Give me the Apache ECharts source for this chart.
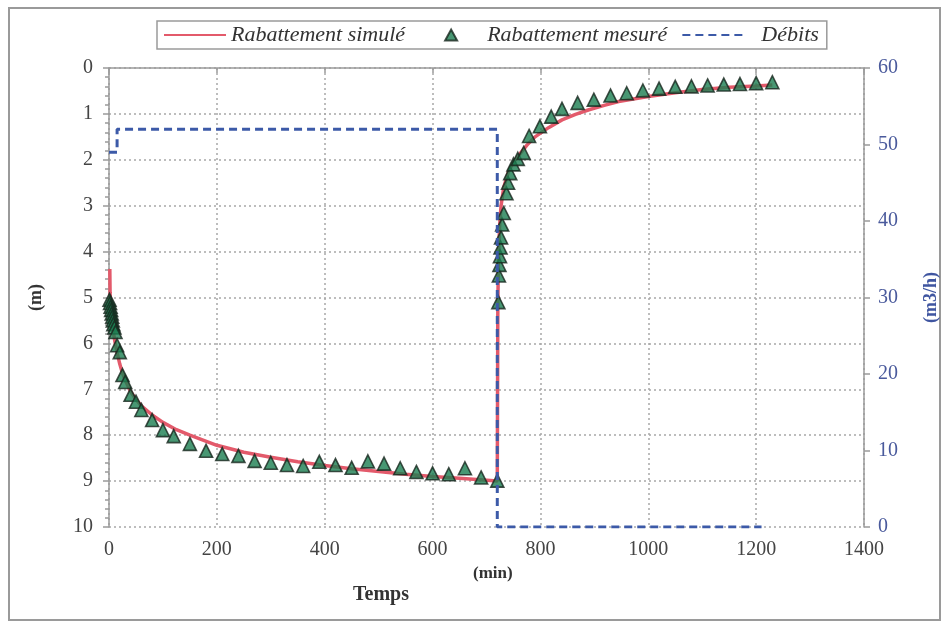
<!DOCTYPE html>
<html>
<head>
<meta charset="utf-8">
<script src="https://cdn.jsdelivr.net/npm/echarts@6/dist/echarts.min.js"></script>
<style>
  html, body { margin: 0; padding: 0; background: #fff; }
  #chart { width: 948px; height: 628px; }
</style>
</head>
<body>
<div id="chart"></div>
<script>
// Simulated drawdown (m) over time (min): pumping phase then recovery
const simTime = [1.5, 2, 3, 5, 7, 10, 15, 20, 25, 30, 40, 50, 60, 80, 100, 125, 150, 200, 250, 300, 350, 400, 450, 500, 550, 600, 650, 720,
  721, 722, 724, 727, 732, 741, 750, 760, 775, 790, 815, 840, 865, 890, 920, 945, 975, 1000, 1050, 1100, 1150, 1200, 1230];
const simDrawdown = [4.38, 4.9, 5.15, 5.45, 5.65, 5.9, 6.2, 6.45, 6.65, 6.8, 7.05, 7.22, 7.36, 7.56, 7.72, 7.88, 8.0, 8.22, 8.37, 8.48, 8.58, 8.66, 8.73, 8.79, 8.85, 8.9, 8.94, 9.0,
  5.2, 4.3, 3.5, 3.0, 2.6, 2.25, 2.05, 1.9, 1.68, 1.5, 1.3, 1.13, 1.01, 0.91, 0.81, 0.73, 0.67, 0.62, 0.54, 0.47, 0.42, 0.39, 0.37];

// Measured drawdown (m)
const measTime = [1, 2, 3, 4, 5, 6, 7, 8, 10, 12, 15, 20, 25, 30, 40, 50, 60, 80, 100, 120, 150, 180, 210, 240, 270, 300, 330, 360, 390, 420,
  450, 480, 510, 540, 570, 600, 630, 660, 690, 720,
  722, 723, 724, 725, 726, 727, 729, 732, 737, 740, 744, 750, 758, 769, 779, 799, 820, 840, 869, 899, 930, 960, 990, 1020, 1050, 1080,
  1110, 1140, 1170, 1200, 1230];
const measDrawdown = [5.05, 5.12, 5.2, 5.27, 5.35, 5.42, 5.5, 5.58, 5.65, 5.75, 6.04, 6.19, 6.69, 6.84, 7.12, 7.27, 7.45, 7.67, 7.89, 8.02, 8.19, 8.34, 8.41, 8.45, 8.56, 8.6, 8.65, 8.67, 8.58, 8.65,
  8.71, 8.57, 8.62, 8.72, 8.8, 8.83, 8.85, 8.72, 8.92, 8.99,
  5.1, 4.52, 4.29, 4.1, 3.91, 3.69, 3.41, 3.16, 2.73, 2.5, 2.29, 2.1, 1.98, 1.85, 1.48, 1.27, 1.06, 0.89, 0.76, 0.69, 0.6, 0.55, 0.49, 0.45, 0.41, 0.4,
  0.38, 0.36, 0.35, 0.33, 0.31];

// Pumping rate (m3/h), step function
const flowTime = [0, 15, 15, 720, 720, 1210];
const flowRate = [49, 49, 52, 52, 0, 0];

// Axis ticks
const timeTicks = { min: 0, max: 1400, step: 200 };
const depthTicks = { min: 0, max: 10, step: 1 };
const rateTicks = { min: 0, max: 60, step: 10 };

const zip = (a, b) => a.map((v, i) => [v, b[i]]);

const serif = 'Liberation Serif, Times New Roman, serif';
const gridLine = { show: true, lineStyle: { color: '#a8a8a8', type: [2, 3], width: 1.5 } };
const axisLineStyle = { color: '#9a9a9a', width: 1.5 };
const plainNumber = v => String(v);
const noMarker = { opacity: 0, borderWidth: 0 };
// Small triangle centred in a 62x12 legend slot (outer moveTo points set the box)
const legendTriangle = 'path://M0,6 M25,12 L31,1 L37,12 Z M62,6';

const chart = echarts.init(document.getElementById('chart'));
chart.setOption({
  animation: false,
  backgroundColor: '#fff',
  grid: { left: 109, right: 81, top: 68, bottom: 101, containLabel: false },
  legend: {
    left: 157, top: 21,
    padding: [3, 8, 3, 6],
    borderColor: '#9a9a9a', borderWidth: 1.5,
    itemWidth: 62, itemHeight: 12, itemGap: 14,
    textStyle: { fontFamily: serif, fontStyle: 'italic', fontSize: 22, color: '#333' },
    data: [
      { name: 'Rabattement simulé', itemStyle: noMarker },
      { name: 'Rabattement mesuré', icon: legendTriangle },
      { name: 'Débits', itemStyle: noMarker, textStyle: { padding: [0, 0, 0, 12] } }
    ]
  },
  xAxis: {
    type: 'value', min: timeTicks.min, max: timeTicks.max, interval: timeTicks.step,
    axisLine: { show: true, lineStyle: axisLineStyle },
    axisTick: { show: true, length: 5, lineStyle: axisLineStyle },
    axisLabel: { fontFamily: serif, fontSize: 20, color: '#444', margin: 13, formatter: plainNumber },
    splitLine: gridLine
  },
  yAxis: [
    {
      type: 'value', inverse: true, min: depthTicks.min, max: depthTicks.max, interval: depthTicks.step,
      name: '(m)', nameLocation: 'middle', nameGap: 64,
      nameTextStyle: { fontFamily: serif, fontWeight: 'bold', fontSize: 18, color: '#333' },
      axisLine: { show: true, lineStyle: axisLineStyle },
      axisTick: { show: true, length: 6, lineStyle: axisLineStyle },
      minorTick: { show: true, splitNumber: 5, length: 4, lineStyle: axisLineStyle },
      axisLabel: { fontFamily: serif, fontSize: 20, color: '#444', margin: 16, formatter: plainNumber },
      splitLine: gridLine
    },
    {
      type: 'value', position: 'right', min: rateTicks.min, max: rateTicks.max, interval: rateTicks.step,
      name: '(m3/h)', nameLocation: 'middle', nameGap: 58,
      nameTextStyle: { fontFamily: serif, fontWeight: 'bold', fontSize: 18, color: '#3f55a0' },
      axisLine: { show: true, lineStyle: axisLineStyle },
      axisTick: { show: true, length: 6, lineStyle: axisLineStyle },
      axisLabel: { fontFamily: serif, fontSize: 20, color: '#4a5a9c', margin: 14, formatter: plainNumber },
      splitLine: { show: false }
    }
  ],
  graphic: [
    { type: 'rect', shape: { x: 9, y: 8, width: 931, height: 612 }, style: { fill: 'none', stroke: '#9a9a9a', lineWidth: 2 }, z: -1 },
    { type: 'text', left: 473, top: 565, style: { text: '(min)', font: 'bold 17px ' + serif, fill: '#333' } },
    { type: 'text', left: 353, top: 585, style: { text: 'Temps', font: 'bold 20px ' + serif, fill: '#333' } }
  ],
  series: [
    {
      name: 'Rabattement simulé', type: 'line', yAxisIndex: 0, symbol: 'none', z: 2,
      lineStyle: { color: '#e35a6b', width: 3.5 }, itemStyle: { color: '#e35a6b' },
      data: zip(simTime, simDrawdown)
    },
    {
      name: 'Rabattement mesuré', type: 'scatter', yAxisIndex: 0, symbol: 'triangle', symbolSize: 13, z: 3,
      itemStyle: { color: '#1a7d50', borderColor: '#17251d', borderWidth: 1.6 },
      data: zip(measTime, measDrawdown)
    },
    {
      name: 'Débits', type: 'line', yAxisIndex: 1, symbol: 'none', z: 4,
      lineStyle: { color: '#3c5aa8', width: 3, type: [8, 5] }, itemStyle: { color: '#3c5aa8' },
      data: zip(flowTime, flowRate)
    }
  ]
});
</script>
</body>
</html>
